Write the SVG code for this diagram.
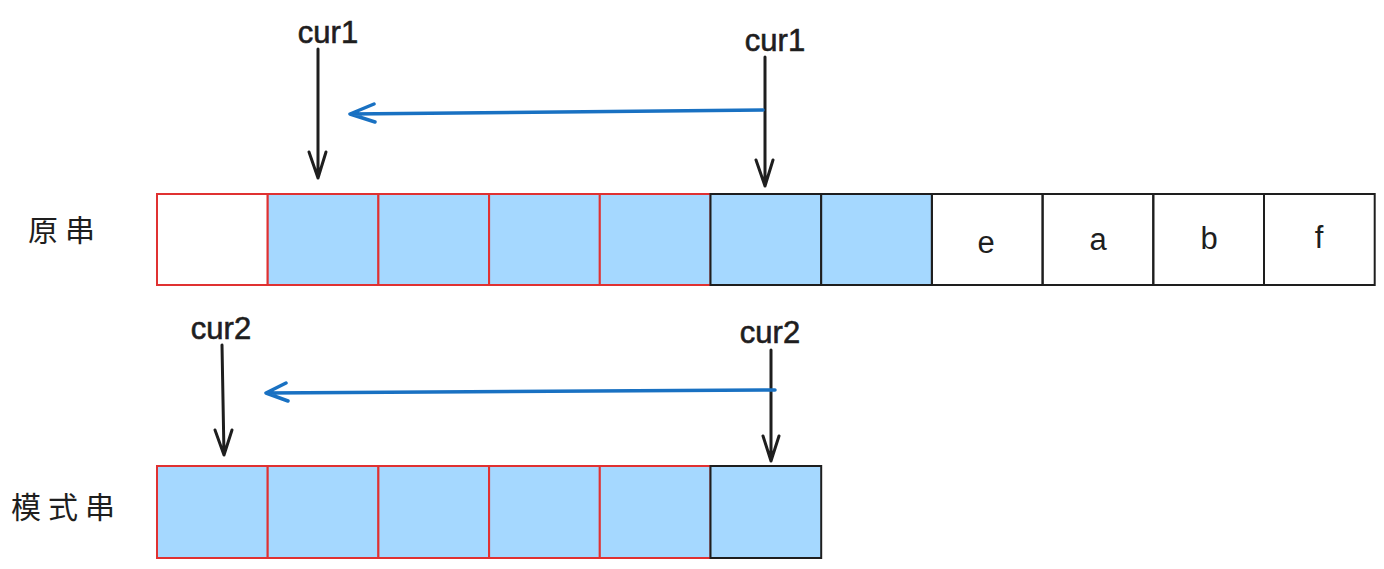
<svg xmlns="http://www.w3.org/2000/svg" width="1384" height="569" viewBox="0 0 1384 569">
<defs>
<style>
.red{fill:none;stroke:#e03131;stroke-width:2}
.blk{fill:none;stroke:#1e1e1e;stroke-width:2}
.fill{fill:#a5d8ff}
.wfill{fill:#ffffff}
.lbl{font-family:"Liberation Sans","Noto Sans CJK SC",sans-serif;font-size:30px;fill:#1e1e1e;letter-spacing:7px}
.cur{font-family:"Liberation Sans",sans-serif;font-size:31px;fill:#1e1e1e;text-anchor:middle;stroke:#1e1e1e;stroke-width:0.6}
.ch{font-family:"Liberation Sans",sans-serif;font-size:31px;fill:#1e1e1e;text-anchor:middle}
.arr{fill:none;stroke:#1e1e1e;stroke-width:3;stroke-linecap:round;stroke-linejoin:round}
.barr{fill:none;stroke:#1971c2;stroke-width:3.5;stroke-linecap:round;stroke-linejoin:round}
</style>
</defs>
<rect width="1384" height="569" fill="#ffffff"/>
<text class="lbl" x="28" y="241">原串</text>
<text class="lbl" x="11" y="518">模式串</text>
<g id="top-row">
<g id="t1"><rect class="wfill" x="157" y="194" width="110.7" height="91"/><rect class="red" x="157" y="194" width="110.7" height="91"/></g>
<g id="t2"><rect class="fill" x="267.7" y="194" width="110.7" height="91"/><rect class="red" x="267.7" y="194" width="110.7" height="91"/></g>
<g id="t3"><rect class="fill" x="378.4" y="194" width="110.7" height="91"/><rect class="red" x="378.4" y="194" width="110.7" height="91"/></g>
<g id="t4"><rect class="fill" x="489.1" y="194" width="110.7" height="91"/><rect class="red" x="489.1" y="194" width="110.7" height="91"/></g>
<g id="t5"><rect class="fill" x="599.8" y="194" width="110.7" height="91"/><rect class="red" x="599.8" y="194" width="110.7" height="91"/></g>
<g id="t6"><rect class="fill" x="710.5" y="194" width="110.7" height="91"/><rect class="blk" x="710.5" y="194" width="110.7" height="91"/></g>
<g id="t7"><rect class="fill" x="821.2" y="194" width="110.7" height="91"/><rect class="blk" x="821.2" y="194" width="110.7" height="91"/></g>
<g id="t8"><rect class="blk" x="931.9" y="194" width="110.7" height="91"/><text class="ch" x="986" y="253">e</text></g>
<g id="t9"><rect class="blk" x="1042.6" y="194" width="110.7" height="91"/><text class="ch" x="1098" y="250">a</text></g>
<g id="t10"><rect class="blk" x="1153.3" y="194" width="110.7" height="91"/><text class="ch" x="1209" y="249">b</text></g>
<g id="t11"><rect class="blk" x="1264" y="194" width="110.7" height="91"/><text class="ch" x="1319" y="248">f</text></g>
</g>
<g id="bottom-row">
<g id="b1"><rect class="fill" x="157" y="466" width="110.7" height="92"/><rect class="red" x="157" y="466" width="110.7" height="92"/></g>
<g id="b2"><rect class="fill" x="267.7" y="466" width="110.7" height="92"/><rect class="red" x="267.7" y="466" width="110.7" height="92"/></g>
<g id="b3"><rect class="fill" x="378.4" y="466" width="110.7" height="92"/><rect class="red" x="378.4" y="466" width="110.7" height="92"/></g>
<g id="b4"><rect class="fill" x="489.1" y="466" width="110.7" height="92"/><rect class="red" x="489.1" y="466" width="110.7" height="92"/></g>
<g id="b5"><rect class="fill" x="599.8" y="466" width="110.7" height="92"/><rect class="red" x="599.8" y="466" width="110.7" height="92"/></g>
<g id="b6"><rect class="fill" x="710.5" y="466" width="110.7" height="92"/><rect class="blk" x="710.5" y="466" width="110.7" height="92"/></g>
</g>
<g id="labels">
<text class="cur" x="328" y="43">cur1</text>
<text class="cur" x="775" y="51">cur1</text>
<text class="cur" x="221" y="339">cur2</text>
<text class="cur" x="770" y="343">cur2</text>
</g>
<g id="connectors">
<path class="arr" d="M318 49 L318 178 M309 152 L318 178 L326 152"/>
<path class="arr" d="M765 57 L765 186 M756 160 L765 186 L773 160"/>
<path class="arr" d="M222 345 L224 455 M215 430 L224 455 L232 430"/>
<path class="arr" d="M771 350 L771 461 M763 436 L771 461 L779 436"/>
<path class="barr" d="M763 110 L350 114 M374 104 L350 114 L375 122"/>
<path class="barr" d="M775 390 L266 393 M286 383 L266 393 L288 401"/>
</g>
</svg>
